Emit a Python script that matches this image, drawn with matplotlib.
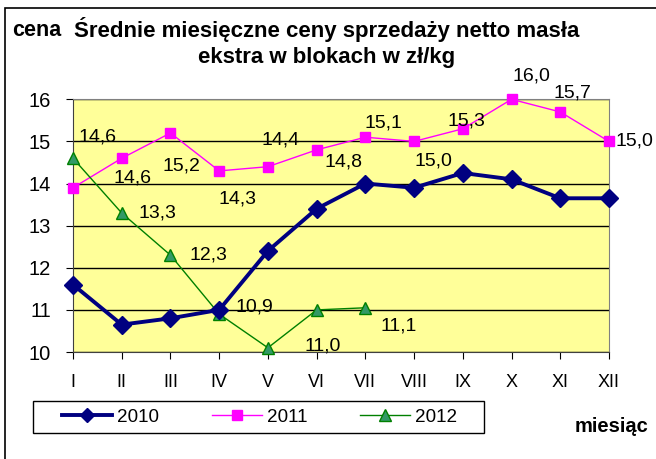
import matplotlib.pyplot as plt
from matplotlib.lines import Line2D
from matplotlib.patches import Rectangle

plt.rcParams['font.family'] = ['Liberation Sans', 'DejaVu Sans']

months = ['I', 'II', 'III', 'IV', 'V', 'VI', 'VII', 'VIII', 'IX', 'X', 'XI', 'XII']
ceny_2010 = [11.6, 10.65, 10.8, 11.0, 12.4, 13.4, 14.0, 13.9, 14.25, 14.1, 13.65, 13.65]
ceny_2011 = [13.9, 14.6, 15.2, 14.3, 14.4, 14.8, 15.1, 15.0, 15.3, 16.0, 15.7, 15.0]
ceny_2012 = [14.6, 13.3, 12.3, 10.9, 10.1, 11.0, 11.05]

labels_2011 = ['', '14,6', '15,2', '14,3', '14,4', '14,8', '15,1', '15,0', '15,3', '16,0', '15,7', '15,0']
labels_2012 = ['14,6', '13,3', '12,3', '10,9', '', '11,0', '11,1']

# label offsets in pixels (dx, dy) from the point
off_2011 = [(0, 0), (11, -20), (11, -33), (18, -28), (13, 27), (27, -12), (18, 14),
            (19, -20), (4, 8), (20, 23), (12, 19), (25, 0)]
off_2012 = [(25, 21), (36, 0), (38, 0), (35, 7), (0, 0), (6, -36), (33, -18)]

W, H = 656, 459
fig = plt.figure(figsize=(W / 100, H / 100), dpi=100)
fig.patches.append(Rectangle((5 / W, -0.1), 1.2, 1 - 8 / H + 0.1, transform=fig.transFigure,
                             fill=False, edgecolor='black', linewidth=1.2))

ax = fig.add_axes([73 / W, 1 - 352 / H, (609 - 73) / W, (352 - 99.3) / H])
ax.set_facecolor('#FFFF99')
x = list(range(len(months)))

ax.plot(x, ceny_2010, color='#000080', linewidth=2.8, marker='D', markersize=9,
        markerfacecolor='#000080', markeredgecolor='#000080', zorder=4, clip_on=False)
ax.plot(x, ceny_2011, color='#FF00FF', linewidth=1, marker='s', markersize=7.5,
        markerfacecolor='#FF00FF', markeredgecolor='#FF00FF', zorder=3, clip_on=False)
ax.plot(x[:len(ceny_2012)], ceny_2012, color='#008000', linewidth=1, marker='^', markersize=9,
        markerfacecolor='#339966', markeredgecolor='#008000', zorder=3, clip_on=False)

for i, (v, t) in enumerate(zip(ceny_2011, labels_2011)):
    if t:
        ax.annotate(t, (i, v), xytext=off_2011[i], textcoords='offset pixels',
                    ha='center', va='center', fontsize=14, annotation_clip=False)
for i, (v, t) in enumerate(zip(ceny_2012, labels_2012)):
    if t:
        ax.annotate(t, (i, v), xytext=off_2012[i], textcoords='offset pixels',
                    ha='center', va='center', fontsize=14, annotation_clip=False)

ax.set_xlim(0, 11)
ax.set_ylim(10, 16)
ax.set_xticks(x)
ax.set_xticklabels(months, fontsize=13, family=['Liberation Sans Narrow', 'Liberation Sans'])
ax.set_yticks(range(10, 17))
ax.tick_params(axis='y', labelsize=14.5, length=5, direction='out', pad=11)
ax.tick_params(axis='x', length=5, direction='out', pad=11)
ax.grid(axis='y', color='black', linewidth=1)
ax.set_axisbelow(True)
for s in ['left', 'bottom']:
    ax.spines[s].set_color('#404040')
for s in ['top', 'right']:
    ax.spines[s].set_color('#808080')

fig.text(12 / W, 1 - 30 / H, 'cena', fontsize=15.5, fontweight='bold', va='center')
fig.text(327 / W, 1 - 30 / H, 'Średnie miesięczne ceny sprzedaży netto masła',
         fontsize=16, fontweight='bold', ha='center', va='center')
fig.text(327 / W, 1 - 57 / H, 'ekstra w blokach w zł/kg',
         fontsize=16, fontweight='bold', ha='center', va='center')
fig.text(575 / W, 1 - 427 / H, 'miesiąc', fontsize=14.5, fontweight='bold', va='center')

# legend frame
fig.patches.append(Rectangle((33 / W, 1 - 433 / H), (484 - 33) / W, 32 / H,
                             transform=fig.transFigure, fill=False,
                             edgecolor='black', linewidth=1))
handles = [
    Line2D([], [], color='#000080', linewidth=2.8, marker='D', markersize=7),
    Line2D([], [], color='#FF00FF', linewidth=1, marker='s', markersize=7),
    Line2D([], [], color='#008000', linewidth=1, marker='^', markersize=9,
           markerfacecolor='#339966'),
]
fig.legend(handles, ['2010', '2011', '2012'], ncol=3, fontsize=13.6,
           loc='center', bbox_to_anchor=(259.5 / W, 1 - 417 / H),
           frameon=False, handlelength=2.65, columnspacing=2.8,
           handletextpad=0.26, borderpad=0.0)

fig.savefig('out.png', dpi=100)
